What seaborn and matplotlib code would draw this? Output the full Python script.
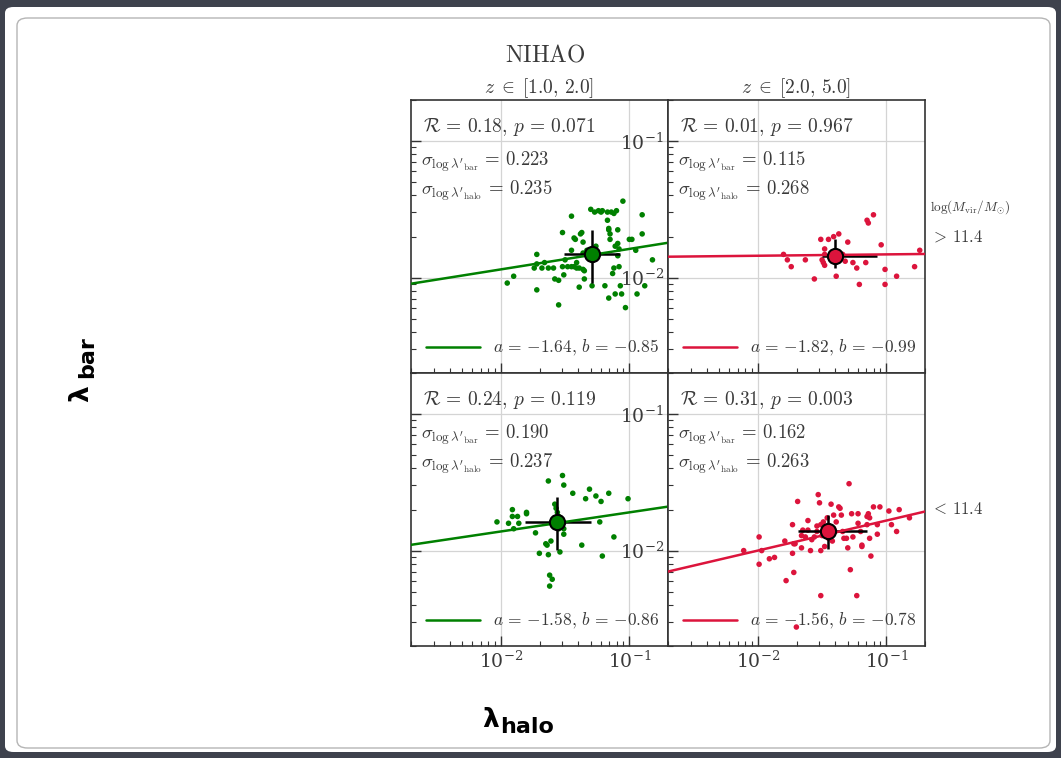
import numpy as np
import pandas as pd
import matplotlib
matplotlib.use("Agg")
import matplotlib.pyplot as plt
import seaborn as sns
from matplotlib.patches import FancyBboxPatch
from matplotlib.ticker import LogLocator, NullFormatter, LogFormatterSciNotation

# ------------------------------------------------------------------
# NIHAO spin parameters (log10 values), split by redshift and halo mass
# ------------------------------------------------------------------
# z in [1, 2], log(Mvir/Msun) > 11.4
hi_z1_log_halo = [-1.95, -1.90, -1.72, -1.74, -1.72, -1.68, -1.66, -1.72, -1.63, -1.59,
                  -1.55, -1.58, -1.55, -1.52, -1.51, -1.52, -1.50, -1.48, -1.45, -1.45,
                  -1.45, -1.43, -1.43, -1.42, -1.41, -1.41, -1.39, -1.39, -1.38, -1.37,
                  -1.36, -1.36, -1.36, -1.35, -1.35, -1.33, -1.30, -1.29, -1.28, -1.27,
                  -1.26, -1.24, -1.22, -1.21, -1.19, -1.17, -1.17, -1.16, -1.16, -1.16,
                  -1.15, -1.15, -1.14, -1.13, -1.12, -1.12, -1.11, -1.11, -1.10, -1.09,
                  -1.09, -1.09, -1.08, -1.08, -1.07, -1.06, -1.05, -1.03, -1.00, -0.98,
                  -0.95, -0.94, -0.90, -0.90, -0.88, -0.82]
hi_z1_log_bar = [-2.04, -1.99, -1.83, -1.93, -1.90, -1.93, -1.89, -2.09, -1.93, -1.93,
                 -2.20, -2.01, -2.02, -1.67, -1.98, -1.92, -1.87, -1.92, -1.55, -1.80,
                 -1.92, -1.71, -1.92, -1.72, -1.89, -1.93, -2.07, -1.93, -1.68, -1.67,
                 -1.74, -1.82, -1.94, -2.01, -1.95, -1.80, -1.50, -2.06, -1.87, -1.52,
                 -1.77, -1.51, -1.52, -1.51, -2.06, -1.58, -1.52, -1.65, -2.15, -1.64,
                 -1.68, -1.72, -1.52, -1.97, -1.93, -1.53, -2.12, -1.77, -1.51, -1.65,
                 -1.84, -1.75, -1.79, -1.92, -2.06, -2.12, -1.44, -2.22, -1.72, -1.72,
                 -1.80, -2.12, -1.68, -1.54, -2.06, -1.87]

# z in [2, 5], log(Mvir/Msun) > 11.4
hi_z2_log_halo = [-1.80, -1.77, -1.74, -1.63, -1.56, -1.51, -1.50, -1.49, -1.48, -1.48,
                  -1.48, -1.45, -1.41, -1.40, -1.39, -1.37, -1.34, -1.32, -1.30, -1.26,
                  -1.23, -1.21, -1.16, -1.15, -1.14, -1.10, -1.04, -1.01, -1.01, -0.92,
                  -0.78, -0.74]
hi_z2_log_bar = [-1.83, -1.87, -1.92, -1.87, -2.01, -1.72, -1.87, -1.89, -1.83, -1.79,
                 -1.91, -1.72, -1.70, -1.84, -1.99, -1.68, -1.83, -1.88, -1.74, -1.89,
                 -1.93, -2.05, -1.89, -1.58, -1.60, -1.54, -1.76, -1.94, -2.05, -1.99,
                 -1.92, -1.80]

# z in [1, 2], log(Mvir/Msun) < 11.4
lo_z1_log_halo = [-2.03, -1.94, -1.91, -1.91, -1.90, -1.87, -1.86, -1.80, -1.80, -1.73,
                  -1.70, -1.65, -1.64, -1.63, -1.63, -1.62, -1.60, -1.62, -1.61, -1.58,
                  -1.57, -1.56, -1.55, -1.55, -1.54, -1.52, -1.51, -1.51, -1.51, -1.44,
                  -1.37, -1.34, -1.31, -1.26, -1.23, -1.22, -1.21, -1.16, -1.12, -1.01]
lo_z1_log_bar = [-1.79, -1.80, -1.70, -1.75, -1.84, -1.75, -1.80, -1.72, -1.73, -1.87,
                 -2.02, -1.95, -1.96, -1.49, -2.03, -2.18, -2.21, -2.26, -1.93, -1.66,
                 -1.69, -1.72, -1.75, -1.84, -2.01, -1.45, -1.52, -1.84, -1.88, -1.58,
                 -1.96, -1.62, -1.55, -1.60, -1.79, -1.64, -2.04, -1.58, -1.90, -1.62]

# z in [2, 5], log(Mvir/Msun) < 11.4
lo_z2_log_halo = [-2.11, -1.99, -1.99, -1.97, -1.91, -1.87, -1.79, -1.78, -1.73, -1.73,
                  -1.72, -1.72, -1.71, -1.69, -1.66, -1.66, -1.65, -1.63, -1.61, -1.61,
                  -1.59, -1.58, -1.56, -1.54, -1.54, -1.53, -1.52, -1.51, -1.51, -1.51,
                  -1.50, -1.49, -1.48, -1.46, -1.45, -1.44, -1.43, -1.42, -1.41, -1.41,
                  -1.39, -1.37, -1.36, -1.35, -1.34, -1.33, -1.31, -1.30, -1.29, -1.28,
                  -1.27, -1.26, -1.23, -1.22, -1.22, -1.20, -1.19, -1.19, -1.15, -1.15,
                  -1.14, -1.13, -1.13, -1.12, -1.10, -1.07, -1.07, -1.05, -0.98, -0.96,
                  -0.92, -0.90, -0.82, -1.70]
lo_z2_log_bar = [-2.00, -1.90, -2.10, -2.00, -2.06, -2.05, -1.93, -2.22, -1.81, -2.02,
                 -2.16, -1.95, -1.95, -1.64, -1.98, -1.89, -1.85, -1.90, -1.78, -1.85,
                 -2.00, -1.92, -1.90, -1.86, -1.82, -1.59, -1.65, -2.00, -2.33, -1.81,
                 -1.89, -1.79, -1.97, -1.76, -1.91, -1.89, -1.66, -1.93, -1.84, -1.74,
                 -1.79, -1.68, -1.69, -1.74, -1.86, -1.91, -1.91, -1.98, -1.51, -2.14,
                 -1.73, -1.90, -2.33, -1.73, -1.80, -1.86, -1.96, -1.97, -1.81, -1.75,
                 -1.73, -1.76, -1.91, -2.04, -1.68, -1.81, -1.88, -1.68, -1.71, -1.81,
                 -1.86, -1.70, -1.76, -2.56]

# Median and 16th/84th percentiles (log10): [median, low, high]
median_halo = [[-1.29, -1.51, -1.07], [-1.40, -1.50, -1.07],
               [-1.56, -1.81, -1.30], [-1.45, -1.69, -1.15]]
median_bar = [[-1.83, -2.04, -1.65], [-1.84, -1.93, -1.72],
              [-1.79, -1.995, -1.61], [-1.86, -1.99, -1.74]]

# Statistics and fit parameters: log lam_bar = a + (1 + b) log lam_halo
corr_R = [0.18, 0.01, 0.24, 0.31]
corr_p = [0.071, 0.967, 0.119, 0.003]
sigma_bar = [0.223, 0.115, 0.190, 0.162]
sigma_halo = [0.235, 0.268, 0.237, 0.263]
fit_a = [-1.64, -1.82, -1.58, -1.56]
fit_b = [-0.85, -0.99, -0.86, -0.78]

column_titles = [r"$z\;\in\;[1.0,\,2.0]$", r"$z\;\in\;[2.0,\,5.0]$"]
row_labels = [r"$>\,11.4$", r"$<\,11.4$"]
panel_colors = ["green", "crimson", "green", "crimson"]

halo_sets = [hi_z1_log_halo, hi_z2_log_halo, lo_z1_log_halo, lo_z2_log_halo]
bar_sets = [hi_z1_log_bar, hi_z2_log_bar, lo_z1_log_bar, lo_z2_log_bar]


def signed(v, fmt):
    """Format a number for mathtext with a tight unary minus."""
    s = fmt % abs(v)
    return ("{-}" + s) if v < 0 else s


# ------------------------------------------------------------------
sns.set_theme(style="white")
plt.rcParams["mathtext.fontset"] = "cm"
plt.rcParams["font.family"] = ["DejaVu Serif"]

TXT = "#3a3a3a"
W, H = 1061, 758
fig = plt.figure(figsize=(W / 100, H / 100), dpi=100, facecolor="#3e424d")

# slide paper
fig.patches.append(FancyBboxPatch((5 / W, 6 / H), 1051 / W, 745 / H,
                                  boxstyle="round,pad=0,rounding_size=0.008",
                                  transform=fig.transFigure, fc="white", ec="none",
                                  zorder=-2))
fig.patches.append(FancyBboxPatch((17 / W, 10 / H), 1033 / W, 730 / H,
                                  boxstyle="round,pad=0,rounding_size=0.01",
                                  transform=fig.transFigure, fc="none", ec="#b5b5b5",
                                  lw=1.0, zorder=-1))

gs = fig.add_gridspec(2, 2, left=411 / W, right=925 / W, top=1 - 100 / H,
                      bottom=1 - 646 / H, wspace=0, hspace=0)

lims = (2e-3, 0.2)
xfit = np.logspace(np.log10(lims[0]), np.log10(lims[1]), 60)

for k in range(4):
    row, col = divmod(k, 2)
    ax = fig.add_subplot(gs[row, col])
    ax.set_xscale("log")
    ax.set_yscale("log")
    color = panel_colors[k]

    df = pd.DataFrame({"lam_halo": 10 ** np.array(halo_sets[k]),
                       "lam_bar": 10 ** np.array(bar_sets[k])})
    sns.scatterplot(data=df, x="lam_halo", y="lam_bar", ax=ax, color=color,
                    s=16, edgecolor="none", zorder=2)

    fit = pd.DataFrame({"lam_halo": xfit,
                        "lam_bar": 10 ** fit_a[k] * xfit ** (1 + fit_b[k])})
    label = r"$a\,=\,%s,\,b\,=\,%s$" % (signed(fit_a[k], "%.2f"),
                                         signed(fit_b[k], "%.2f"))
    sns.lineplot(data=fit, x="lam_halo", y="lam_bar", ax=ax, color=color, lw=1.8,
                 label=label, zorder=3)

    mh, hl, hh = median_halo[k]
    mb, bl, bh = median_bar[k]
    ax.errorbar(10 ** mh, 10 ** mb,
                xerr=[[10 ** mh - 10 ** hl], [10 ** hh - 10 ** mh]],
                yerr=[[10 ** mb - 10 ** bl], [10 ** bh - 10 ** mb]],
                fmt="none", ecolor="black", elinewidth=1.8, capsize=0, zorder=2.5)
    ax.scatter([10 ** mh], [10 ** mb], s=120, c=color, edgecolors="black",
               linewidths=1.5, zorder=4)

    ax.set_xlim(*lims)
    ax.set_ylim(*lims)
    ax.set_xlabel("")
    ax.set_ylabel("")

    for axis in (ax.xaxis, ax.yaxis):
        axis.set_major_locator(LogLocator(base=10, numticks=10))
        axis.set_minor_locator(LogLocator(base=10, subs=np.arange(2, 10), numticks=20))
        axis.set_major_formatter(LogFormatterSciNotation())
        axis.set_minor_formatter(NullFormatter())

    ax.grid(True, which="major", color="#d4d4d4", lw=0.9)
    ax.set_axisbelow(True)
    ax.tick_params(which="both", direction="in", top=False, right=False,
                   left=True, bottom=True, colors="#333333", labelcolor=TXT,
                   labelsize=13.5)
    ax.tick_params(which="major", length=7, width=1.0)
    ax.tick_params(which="minor", length=3.5, width=0.8)
    ax.tick_params(axis="y", pad=3)
    if col == 0:
        ax.tick_params(labelleft=False)
    if row == 0:
        ax.tick_params(labelbottom=False)
        ax.set_title(column_titles[col], fontsize=14, color=TXT, pad=4)
    for sp in ax.spines.values():
        sp.set_color("#333333")
        sp.set_linewidth(1.2)

    ax.text(0.045, 0.90,
            r"$\mathcal{R}\,=\,%.2f,\,p\,=\,%.3f$" % (corr_R[k], corr_p[k]),
            transform=ax.transAxes, fontsize=14, va="center", color=TXT)
    ax.text(0.04, 0.772, r"$\sigma_{\log\lambda'_{\rm bar}}\,=\,%.3f$" % sigma_bar[k],
            transform=ax.transAxes, fontsize=13.5, va="center", color=TXT)
    ax.text(0.04, 0.668, r"$\sigma_{\log\lambda'_{\rm halo}}\,=\,%.3f$" % sigma_halo[k],
            transform=ax.transAxes, fontsize=13.5, va="center", color=TXT)

    ax.legend(loc="lower left", frameon=False, fontsize=12.5, handlelength=3.1,
              handletextpad=0.75, borderaxespad=0.45, labelcolor=TXT)

fig.text(545 / W, 1 - 55 / H, r"$\mathrm{NIHAO}$", ha="center", va="center",
         fontsize=17, color=TXT)
fig.text(930 / W, 1 - 207 / H, r"$\log(M_{\rm vir}/M_{\odot})$", ha="left",
         va="center", fontsize=9.5, color=TXT)
fig.text(931 / W, 1 - 237 / H, row_labels[0], ha="left", va="center", fontsize=12,
         color=TXT)
fig.text(931 / W, 1 - 510 / H, row_labels[1], ha="left", va="center", fontsize=12,
         color=TXT)

# axis titles
bold = dict(family=["DejaVu Sans"], weight="bold", color="black")
fig.text(482 / W, 1 - 727 / H, "λ", ha="left", va="baseline", fontsize=19, **bold)
fig.text(500 / W, 1 - 733 / H, "halo", ha="left", va="baseline", fontsize=16, **bold)
fig.text(88 / W, 1 - 402 / H, "λ", ha="left", va="baseline", fontsize=19,
         rotation=90, rotation_mode="anchor", **bold)
fig.text(93 / W, 1 - 378 / H, "bar", ha="left", va="baseline", fontsize=16,
         rotation=90, rotation_mode="anchor", **bold)

fig.savefig("out.png", dpi=100, facecolor=fig.get_facecolor())
